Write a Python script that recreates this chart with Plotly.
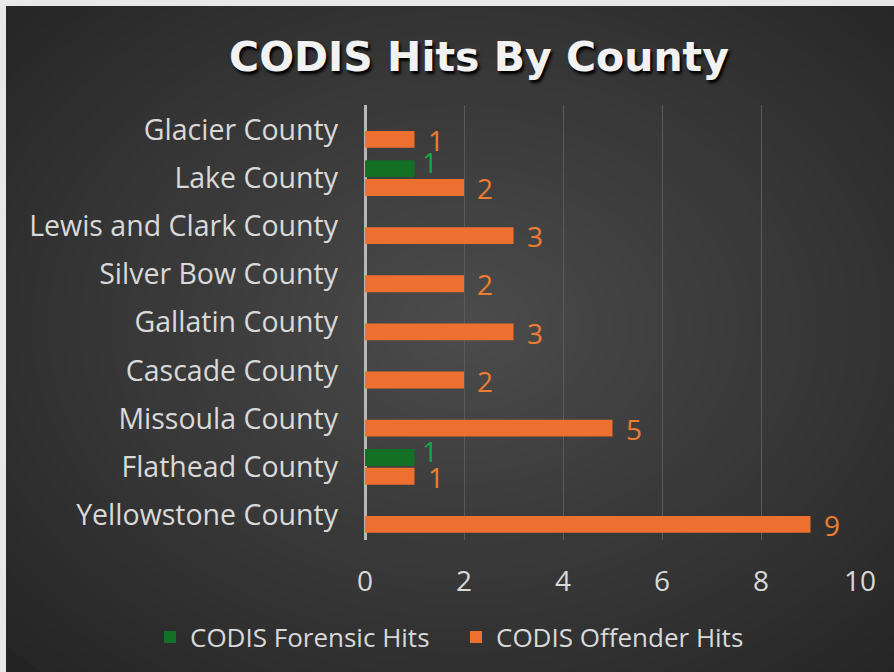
import plotly.graph_objects as go

counties = ["Glacier County", "Lake County", "Lewis and Clark County", "Silver Bow County",
            "Gallatin County", "Cascade County", "Missoula County", "Flathead County",
            "Yellowstone County"]
forensic_hits = [None, 1, None, None, None, None, None, 1, None]
offender_hits = [1, 2, 3, 2, 3, 2, 5, 1, 9]
x_ticks = [0, 2, 4, 6, 8, 10]

W, H = 894, 672
ML, MR, MT, MB = 365, 34, 105, 132
PW, PH = W - ML - MR, H - MT - MB

def px(x):
    return (x - ML) / PW

def py(y):
    return (H - MB - y) / PH

FONT = "Open Sans, Noto Sans, sans-serif"
GREEN, ORANGE = "#137025", "#EE7030"
GREEN_TXT, ORANGE_TXT = "#12A84A", "#ED7D31"

fig = go.Figure()
fig.add_trace(go.Bar(
    name="CODIS Forensic Hits", y=counties, x=forensic_hits, orientation="h",
    marker=dict(color=GREEN, line=dict(width=0)), legend="legend",
))
fig.add_trace(go.Bar(
    name="CODIS Offender Hits", y=counties, x=offender_hits, orientation="h",
    marker=dict(color=ORANGE, line=dict(width=0)), legend="legend2",
))

# data labels
annotations = []
for c, v in zip(counties, forensic_hits):
    if v is not None:
        annotations.append(dict(x=v, y=c, xref="x", yref="y", text=str(v), showarrow=False,
                                xanchor="left", yanchor="middle", xshift=5, yshift=16,
                                font=dict(size=28, color=GREEN_TXT, family=FONT)))
for c, v in zip(counties, offender_hits):
    if v is not None:
        annotations.append(dict(x=v, y=c, xref="x", yref="y", text=str(v), showarrow=False,
                                xanchor="left", yanchor="middle", xshift=11, yshift=-10,
                                font=dict(size=28, color=ORANGE_TXT, family=FONT)))

shapes = []
shapes.append(dict(type="rect", xref="paper", yref="paper", x0=px(0), x1=px(W), y0=py(H), y1=py(0),
                   fillcolor="#242424", line=dict(width=0), layer="below"))
cx, cy = 465, 325
N = 40
c0, c1 = 0x26, 0x4c
for i in range(N):
    f = i / (N - 1)
    rx = 620 * (1 - f) + 4
    ry = 470 * (1 - f) + 3
    v = int(round(c0 + (c1 - c0) * f))
    col = "#%02x%02x%02x" % (v, v, v)
    shapes.append(dict(type="circle", xref="paper", yref="paper",
                       x0=px(cx - rx), x1=px(cx + rx), y0=py(cy + ry), y1=py(cy - ry),
                       fillcolor=col, line=dict(width=0), layer="below"))
shapes.append(dict(type="rect", xref="paper", yref="paper", x0=px(0), x1=px(W), y0=py(6), y1=py(0),
                   fillcolor="#e8e8e8", line=dict(width=0), layer="below"))
shapes.append(dict(type="rect", xref="paper", yref="paper", x0=px(0), x1=px(6), y0=py(H), y1=py(0),
                   fillcolor="#e8e8e8", line=dict(width=0), layer="below"))

legend_common = dict(orientation="h", xref="container", yref="container", xanchor="left",
                     yanchor="middle", y=1 - 637 / H, font=dict(size=26, color="#d9d9d9", family=FONT),
                     itemwidth=30, bgcolor="rgba(0,0,0,0)", borderwidth=0)

n = len(counties)
fig.update_layout(
    width=W, height=H,
    margin=dict(l=ML, r=MR, t=MT, b=MB, pad=0),
    paper_bgcolor="#e8e8e8", plot_bgcolor="rgba(0,0,0,0)",
    shapes=shapes, annotations=annotations,
    barmode="group", bargap=0.22, bargroupgap=0.1,
    title=dict(text="<b>CODIS Hits By County</b>", xref="container", yref="container",
               x=479 / W, y=1 - 57 / H, xanchor="center", yanchor="middle",
               font=dict(family="DejaVu Sans, Verdana, sans-serif", size=41, color="#f2f2f2",
                         shadow="2px 3px 3px #000000")),
    font=dict(family=FONT, color="#d9d9d9"),
    xaxis=dict(range=[0, 10], tickvals=x_ticks, showgrid=True, gridcolor="#5a5a5a", gridwidth=1,
               zeroline=True, zerolinecolor="#b8b8b8", zerolinewidth=3,
               tickfont=dict(size=28, color="#d9d9d9", family=FONT), ticks="", ticklabelstandoff=22),
    yaxis=dict(range=[n - 1 + 0.52, -0.52], showgrid=False, zeroline=False, ticks="",
               tickfont=dict(size=28.5, color="#d9d9d9", family=FONT), ticklabelstandoff=26),
    legend=dict(legend_common, x=150 / W),
    legend2=dict(legend_common, x=456 / W),
    showlegend=True,
)

fig.write_html("out.html", config={"displayModeBar": False},
               post_script="document.body.style.margin='0';document.body.style.background='#e8e8e8';")
